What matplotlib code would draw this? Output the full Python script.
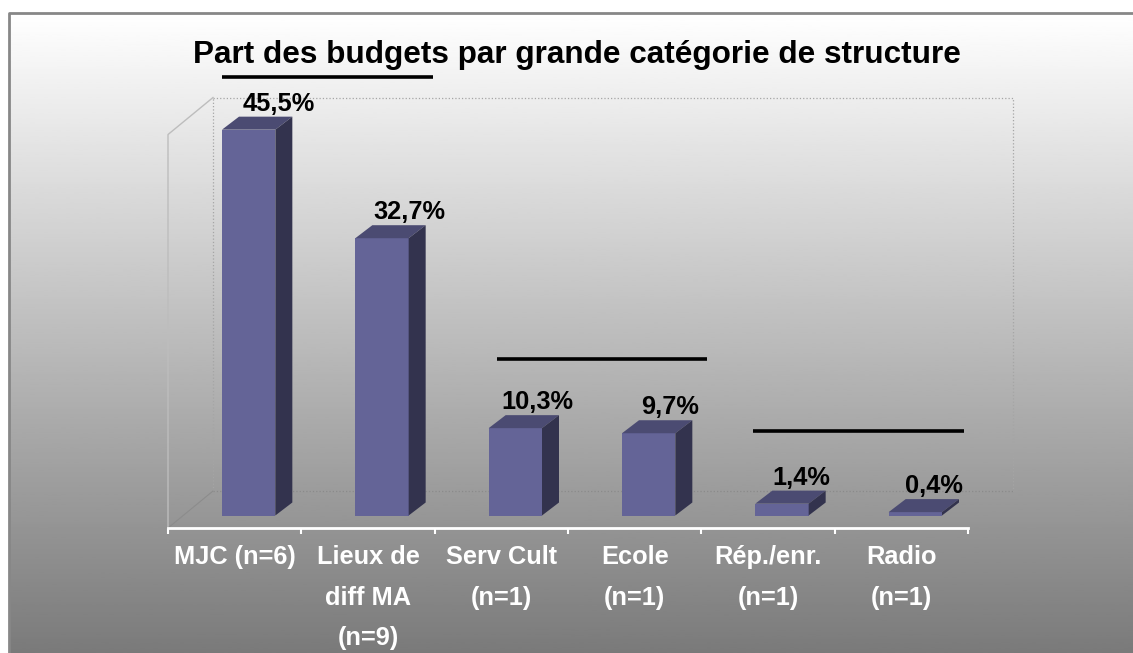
import numpy as np
import matplotlib
matplotlib.use('Agg')
import matplotlib.pyplot as plt
from matplotlib.patches import Polygon

plt.rcParams['font.family'] = ['Liberation Sans', 'DejaVu Sans']

# data
categories = ['MJC (n=6)', 'Lieux de\ndiff MA\n(n=9)', 'Serv Cult\n(n=1)',
              'Ecole\n(n=1)', 'Rép./enr.\n(n=1)', 'Radio\n(n=1)']
shares = [45.5, 32.7, 10.3, 9.7, 1.4, 0.4]
share_labels = ['45,5%', '32,7%', '10,3%', '9,7%', '1,4%', '0,4%']
title = 'Part des budgets par grande catégorie de structure'

W, H = 1133, 653
fig = plt.figure(figsize=(W / 100, H / 100), dpi=100)
fig.patch.set_facecolor('white')

#%% background panel (pixel coords)
bg = fig.add_axes([0, 0, 1, 1])
bg.set_xlim(0, W)
bg.set_ylim(H, 0)
bg.axis('off')
grad = np.linspace(1.0, 0.48, 256).reshape(-1, 1)
bg.imshow(grad, cmap='gray', vmin=0, vmax=1, extent=[9, W, H, 13],
          aspect='auto', zorder=0)
bg.plot([9, 9, W], [H, 13, 13], color='#878787', lw=2, zorder=1)

bg.text(577, 55, title, ha='center', va='center', fontsize=22.7,
        fontweight='bold', color='black')

# the three black strokes drawn over the chart
for xs, y in [((222, 433), 77), ((497, 707), 359), ((753, 964), 431)]:
    bg.plot(xs, (y, y), color='black', lw=2.6, solid_capstyle='butt', zorder=3)

#%% chart axes = front plane of the 3D box
ymax = 46.4
px_per_pct = 8.48
ax = fig.add_axes([168 / W, (H - 528) / H, 800 / W, ymax * px_per_pct / H])
ax.set_xlim(-0.5, 5.5)
ax.set_ylim(0, ymax)
ax.patch.set_visible(False)

p0 = ax.transData.transform((0, 0))
p1 = ax.transData.transform((1, 1))
sx, sy = p1 - p0   # pixels per data unit

# walls
wdx, wdy = 45 / sx, 37 / sy
ax.plot([-0.5 + wdx, 5.5 + wdx, 5.5 + wdx], [ymax + wdy, ymax + wdy, wdy],
        ls=':', color='#a5a5a5', lw=0.9, clip_on=False)
ax.plot([-0.5 + wdx, -0.5 + wdx], [wdy, ymax + wdy], ls=':', color='#a5a5a5',
        lw=0.9, clip_on=False)
ax.plot([-0.5 + wdx, 5.5 + wdx], [wdy, wdy], ls=':', color='#8a8a8a', lw=0.9,
        clip_on=False)
ax.plot([-0.5, -0.5, -0.5 + wdx], [0, ymax, ymax + wdy], color='#bdbdbd', lw=1,
        clip_on=False)
ax.plot([-0.5, -0.5 + wdx], [0, wdy], color='#8c8c8c', lw=0.8, clip_on=False)

#%% bars
front_c, top_c, side_c = '#646497', '#4b4b72', '#33334e'
bw = 0.4
bx, by = 14 / sx, 12.5 / sy      # bar plane offset
ddx, ddy = 17 / sx, 13 / sy      # bar depth
xpos = np.arange(len(shares)) + bx
ax.bar(xpos, shares, width=bw, bottom=by, color=front_c, linewidth=0,
       clip_on=False, zorder=2)
for x, v, lab in zip(xpos, shares, share_labels):
    x0, x1 = x - bw / 2, x + bw / 2
    top = by + v
    ax.add_patch(Polygon([(x0, top), (x1, top), (x1 + ddx, top + ddy),
                          (x0 + ddx, top + ddy)], closed=True, color=top_c,
                         lw=0, clip_on=False, zorder=2))
    ax.add_patch(Polygon([(x1, by), (x1 + ddx, by + ddy), (x1 + ddx, top + ddy),
                          (x1, top)], closed=True, color=side_c, lw=0,
                         clip_on=False, zorder=2))
    ax.text(x + (19 + 0.25 * v) / sx, top + ddy + 6 / sy, lab, ha='center',
            va='baseline', fontsize=18.3, fontweight='bold', color='black',
            clip_on=False, zorder=4)

#%% axis
for s in ['left', 'right', 'top']:
    ax.spines[s].set_visible(False)
ax.spines['bottom'].set_color('white')
ax.spines['bottom'].set_linewidth(2)
ax.set_yticks([])
ax.set_xticks(range(len(categories)))
ax.set_xticklabels(categories, color='white', fontweight='bold', fontsize=18.3,
                   linespacing=1.85)
ax.set_xticks(np.arange(-0.5, len(categories), 1), minor=True)
ax.tick_params(axis='x', which='major', length=0, pad=12.5)
ax.tick_params(axis='x', which='minor', length=4, width=1.5, color='white',
               direction='out')

fig.savefig('out.png', dpi=100)
